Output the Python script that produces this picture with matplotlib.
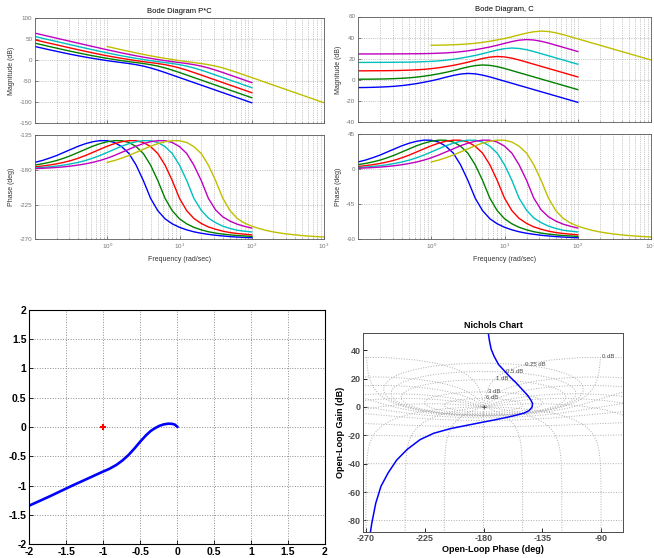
import numpy as np
import matplotlib
matplotlib.use("Agg")
import matplotlib.pyplot as plt
from matplotlib.ticker import LogLocator, NullFormatter

plt.rcParams['font.family'] = ['Liberation Sans', 'DejaVu Sans']
plt.rcParams['mathtext.default'] = 'regular'
plt.rcParams['axes.unicode_minus'] = False

# ---------------- data ----------------
# frequencies (rad/sec) of the blue..magenta controllers, yellow one decade higher
w = [0.1, 0.126, 0.158, 0.2, 0.251, 0.316, 0.398, 0.501, 0.631, 0.794,
     1.0, 1.26, 1.58, 2.0, 2.51, 3.16, 3.98, 5.01, 6.31, 7.94,
     10.0, 12.6, 15.8, 20.0, 25.1, 31.6, 39.8, 50.1, 63.1, 79.4, 100.0]
w_yel = [1.0, 1.26, 1.58, 2.0, 2.51, 3.16, 3.98, 5.01, 6.31, 7.94,
         10.0, 12.6, 15.8, 20.0, 25.1, 31.6, 39.8, 50.1, 63.1, 79.4,
         100.0, 126.0, 158.0, 200.0, 251.0, 316.0, 398.0, 501.0, 631.0, 794.0, 1000.0]

# plant P = 1/s^2 : gain on both grids, constant phase
plant_mag = [40, 36, 32, 28, 24, 20, 16, 12, 8, 4, 0, -4, -8, -12, -16, -20,
             -24, -28, -32, -36, -40, -44, -48, -52, -56, -60, -64, -68, -72, -76, -80]
plant_mag_yel = [0, -4, -8, -12, -16, -20, -24, -28, -32, -36, -40, -44, -48, -52, -56,
                 -60, -64, -68, -72, -76, -80, -84, -88, -92, -96, -100, -104, -108,
                 -112, -116, -120]
plant_phase = -180

# controller C, magnitude (dB)
c_mag_blue = [-7.2, -7.1, -6.95, -6.7, -6.4, -5.95, -5.3, -4.45, -3.4, -2.15, -0.8, 0.8,
              2.6, 4.3, 5.6, 6.2, 5.8, 4.6, 2.9, 0.9, -1.1, -3.1, -5.1, -7.1, -9.1,
              -11.1, -13.1, -15.1, -17.1, -19.1, -21.1]
c_mag_green = [0.7, 0.75, 0.8, 0.9, 1.05, 1.3, 1.6, 2.05, 2.7, 3.55, 4.6, 5.85, 7.2, 8.8,
               10.6, 12.3, 13.6, 14.2, 13.8, 12.6, 10.9, 8.9, 6.9, 4.9, 2.9, 0.9, -1.1,
               -3.1, -5.1, -7.1, -9.1]
c_mag_red = [8.65, 8.65, 8.7, 8.75, 8.8, 8.9, 9.05, 9.3, 9.6, 10.05, 10.7, 11.55, 12.6,
             13.85, 15.2, 16.8, 18.6, 20.3, 21.6, 22.2, 21.8, 20.6, 18.9, 16.9, 14.9,
             12.9, 10.9, 8.9, 6.9, 4.9, 2.9]
c_mag_cyan = [16.6, 16.6, 16.65, 16.65, 16.7, 16.75, 16.8, 16.9, 17.05, 17.3, 17.6, 18.05,
              18.7, 19.55, 20.6, 21.85, 23.2, 24.8, 26.6, 28.3, 29.6, 30.2, 29.8, 28.6,
              26.9, 24.9, 22.9, 20.9, 18.9, 16.9, 14.9]
c_mag_mag = [24.6, 24.6, 24.6, 24.6, 24.65, 24.65, 24.7, 24.75, 24.8, 24.9, 25.05, 25.3,
             25.6, 26.05, 26.7, 27.55, 28.6, 29.85, 31.2, 32.8, 34.6, 36.3, 37.6, 38.2,
             37.8, 36.6, 34.9, 32.9, 30.9, 28.9, 26.9]
c_mag_yel = [32.8, 32.9, 33.05, 33.3, 33.6, 34.05, 34.7, 35.55, 36.6, 37.85, 39.2, 40.8,
             42.6, 44.3, 45.6, 46.2, 45.8, 44.6, 42.9, 40.9, 38.9, 36.9, 34.9, 32.9,
             30.9, 28.9, 26.9, 24.9, 22.9, 20.9, 18.9]

# controller C, phase (deg)
c_ph_blue = [9.6, 12.0, 15.0, 18.5, 22.5, 26.5, 30.5, 33.8, 36.3, 37.7, 37.6, 35.3, 30.0,
             21.0, 6.0, -14.0, -37.0, -53.0, -63.5, -70.0, -74.5, -77.8, -80.3, -82.2,
             -83.6, -84.8, -85.7, -86.5, -87.1, -87.6, -88.0]
c_ph_green = [6.1, 7.7, 9.6, 12.0, 15.0, 18.5, 22.5, 26.5, 30.5, 33.8, 36.3, 37.7, 37.6,
              35.3, 30.0, 21.0, 6.0, -14.0, -37.0, -53.0, -63.5, -70.0, -74.5, -77.8,
              -80.2, -82.0, -83.3, -84.3, -85.1, -85.7, -86.2]
c_ph_red = [3.8, 4.8, 6.1, 7.7, 9.6, 12.0, 15.0, 18.5, 22.5, 26.5, 30.5, 33.8, 36.3, 37.7,
            37.6, 35.3, 30.0, 21.0, 6.0, -14.0, -37.0, -53.0, -63.0, -69.5, -74.0, -77.0,
            -79.5, -81.3, -82.5, -83.4, -84.2]
c_ph_cyan = [2.4, 3.0, 3.8, 4.8, 6.1, 7.7, 9.6, 12.0, 15.0, 18.5, 22.5, 26.5, 30.5, 33.8,
             36.3, 37.7, 37.6, 35.3, 30.0, 21.0, 6.0, -14.0, -37.0, -52.5, -62.5, -68.5,
             -73.0, -76.0, -78.3, -79.5, -80.5]
c_ph_mag = [1.5, 1.9, 2.4, 3.0, 3.8, 4.8, 6.1, 7.7, 9.6, 12.0, 15.0, 18.5, 22.5, 26.5,
            30.5, 33.8, 36.3, 37.7, 37.6, 35.3, 30.0, 21.0, 6.0, -14.0, -37.0, -52.0,
            -61.0, -66.5, -70.5, -73.2, -75.5]
c_ph_yel = [9.6, 12.0, 15.0, 18.5, 22.5, 26.5, 30.5, 33.8, 36.3, 37.7, 37.6, 35.3, 30.0,
            21.0, 6.0, -14.0, -37.0, -53.0, -63.0, -69.0, -73.0, -76.0, -78.5, -80.5,
            -82.0, -83.3, -84.3, -85.2, -85.9, -86.5, -87.0]

# Nyquist of the loop (real, imag)
nyq_re = [0.005, -0.03, -0.07, -0.12, -0.18, -0.24, -0.30, -0.36, -0.42, -0.50, -0.58,
          -0.66, -0.74, -0.82, -0.92, -1.02, -1.15, -1.28, -1.42, -1.57, -1.72, -1.86,
          -2.0, -2.1]
nyq_im = [0.0, 0.04, 0.054, 0.057, 0.045, 0.02, -0.02, -0.07, -0.14, -0.25, -0.37,
          -0.48, -0.57, -0.645, -0.715, -0.77, -0.845, -0.92, -1.0, -1.09, -1.18, -1.26,
          -1.34, -1.39]

# Nichols of the loop (phase deg, gain dB)
nic_ph = [-176.3, -175.5, -174.2, -172.0, -168.5, -164.0, -159.5, -155.0, -150.5, -146.5,
          -143.8, -142.5, -142.8, -145.0, -149.0, -155.0, -163.0, -172.0, -181.0, -192.0,
          -205.0, -218.0, -228.5, -238.5, -246.5, -253.0, -258.5, -262.5, -265.5, -266.5]
nic_gain = [52.0, 47.0, 41.0, 36.0, 30.0, 25.5, 21.0, 17.0, 12.5, 8.5, 5.0, 2.5, 0.0, -2.5,
            -4.3, -5.8, -7.5, -9.2, -10.8, -12.8, -15.2, -18.5, -23.0, -30.0, -37.5, -46.5,
            -56.0, -68.0, -82.0, -88.0]

# nichols grid levels
ngrid_mag_db = [6, 3, 1, 0.5, 0.25, 0, -1, -3, -6, -12, -20, -40, -60, -80, -100]
ngrid_phase = [1, 5, 10, 20, 30, 50, 90, 120, 150, 180]

colors = [(0, 0, 1), (0, 0.5, 0), (1, 0, 0), (0, 0.75, 0.75), (0.75, 0, 0.75), (0.75, 0.75, 0)]
c_mags = [c_mag_blue, c_mag_green, c_mag_red, c_mag_cyan, c_mag_mag, c_mag_yel]
c_phs = [c_ph_blue, c_ph_green, c_ph_red, c_ph_cyan, c_ph_mag, c_ph_yel]
freqs = [w, w, w, w, w, w_yel]
plants = [plant_mag] * 5 + [plant_mag_yel]

fig = plt.figure(figsize=(6.54, 5.58), dpi=100)
W, H = 654.0, 558.0


def rect(x0, y0, x1, y1):
    return [x0 / W, 1 - y1 / H, (x1 - x0) / W, (y1 - y0) / H]


def bode_ax(r, ylim, yticks, xlabels):
    ax = fig.add_axes(r)
    ax.set_xscale('log')
    ax.set_xlim(0.1, 1000)
    ax.set_ylim(*ylim)
    ax.set_yticks(yticks)
    ax.set_xticks([1, 10, 100, 1000])
    ax.xaxis.set_minor_locator(LogLocator(base=10, subs=np.arange(2, 10)))
    ax.xaxis.set_minor_formatter(NullFormatter())
    if xlabels:
        ax.set_xticklabels(['$10^{0}$', '$10^{1}$', '$10^{2}$', '$10^{3}$'])
    else:
        ax.set_xticklabels([])
    ax.tick_params(which='both', direction='in', labelsize=4.5, labelcolor='0.45',
                   color='0.3', length=2, width=0.5, pad=2)
    ax.tick_params(which='minor', length=1)
    ax.grid(True, which='both', axis='x', ls=':', color='0.6', lw=0.5)
    ax.grid(True, which='major', axis='y', ls=':', color='0.6', lw=0.5)
    for s in ax.spines.values():
        s.set_color('0.35')
        s.set_linewidth(0.6)
    return ax


# ---- Bode P*C ----
ax1 = bode_ax(rect(35, 18.3, 324, 123.3), (-150, 100), [-150, -100, -50, 0, 50, 100], False)
ax2 = bode_ax(rect(35, 135, 324, 239.3), (-270, -135), [-270, -225, -180, -135], True)
# ---- Bode C ----
ax3 = bode_ax(rect(358, 16.5, 651, 122.3), (-40, 60), [-40, -20, 0, 20, 40, 60], False)
ax4 = bode_ax(rect(358, 134.5, 651, 239.3), (-90, 45), [-90, -45, 0, 45], True)

for f, cm, cp, pm, col in zip(freqs, c_mags, c_phs, plants, colors):
    cm = np.array(cm)
    cp = np.array(cp)
    ax1.plot(f, cm + np.array(pm), color=col, lw=1.0)
    ax2.plot(f, cp + plant_phase, color=col, lw=1.0)
    ax3.plot(f, cm, color=col, lw=1.0)
    ax4.plot(f, cp, color=col, lw=1.0)

ax1.set_title('Bode Diagram P*C', fontsize=5.5, pad=4)
ax3.set_title('Bode Diagram, C', fontsize=5.5, pad=4)
for a in (ax1, ax3):
    a.set_ylabel('Magnitude (dB)', fontsize=5, color='0.2', labelpad=3)
for a in (ax2, ax4):
    a.set_ylabel('Phase (deg)', fontsize=5, color='0.2', labelpad=3)
    a.set_xlabel('Frequency (rad/sec)', fontsize=5, color='0.2', labelpad=3)

# ---- Nyquist ----
ax5 = fig.add_axes(rect(29.3, 309.7, 325, 544.3))
ax5.plot(nyq_re, nyq_im, color='b', lw=1.9, solid_capstyle='round')
ax5.plot([-1], [0], '+', color='r', ms=4, mew=1.5)
ax5.set_xlim(-2, 2)
ax5.set_ylim(-2, 2)
tk = [-2, -1.5, -1, -0.5, 0, 0.5, 1, 1.5, 2]
tkl = ['-2', '-1.5', '-1', '-0.5', '0', '0.5', '1', '1.5', '2']
ax5.set_xticks(tk)
ax5.set_xticklabels(tkl)
ax5.set_yticks(tk)
ax5.set_yticklabels(tkl)
ax5.tick_params(direction='in', labelsize=7.5, length=3, width=0.6, pad=2)
for lab in ax5.get_xticklabels() + ax5.get_yticklabels():
    lab.set_fontweight('bold')
ax5.grid(True, ls=':', color='0.55', lw=0.7)
for s in ax5.spines.values():
    s.set_linewidth(0.8)

# ---- Nichols ----
ax6 = fig.add_axes(rect(363.3, 333.3, 623.3, 531.7))
xl, yl = (-272, -73), (-88, 52)
gcol = '0.68'
for mdb in ngrid_mag_db:
    m = 10 ** (mdb / 20.0)
    if mdb > 0:
        t = np.radians(np.linspace(-180, 180, 1441))
    else:
        t = np.radians(np.linspace(1, 359, 1433))
    T = m * np.exp(1j * t)
    G = T / (1 - T)
    ax6.plot(np.mod(np.degrees(np.angle(G)), 360) - 360, 20 * np.log10(np.abs(G)),
             ls=':', color=gcol, lw=0.7)
    # label where the closed-loop phase is -1 deg
    T1 = m * np.exp(-1j * np.radians(1))
    G1 = T1 / (1 - T1)
    lx = np.mod(np.degrees(np.angle(G1)), 360) - 360
    ly = 20 * np.log10(np.abs(G1))
    if xl[0] < lx < xl[1] - 12 and yl[0] < ly < yl[1]:
        ax6.text(lx + 1.2, ly + 0.6, '%g dB' % mdb, fontsize=4.3, color='0.3',
                 ha='left', va='center')

r = np.logspace(-6, 6, 3000)
for nd in ngrid_phase:
    sides = (-1,) if nd == 180 else (-1, 1)
    for s in sides:
        T = r * np.exp(1j * np.radians(s * nd))
        G = T / (1 - T)
        ax6.plot(np.mod(np.degrees(np.angle(G)), 360) - 360, 20 * np.log10(np.abs(G)),
                 ls=':', color=gcol, lw=0.7)

ax6.plot([-180], [0], '+', color='0.3', ms=3, mew=0.6)
ax6.plot(nic_ph, nic_gain, color='b', lw=1.1)
ax6.set_xlim(*xl)
ax6.set_ylim(*yl)
ax6.set_xticks([-270, -225, -180, -135, -90])
ax6.set_yticks([-80, -60, -40, -20, 0, 20, 40])
ax6.tick_params(direction='in', labelsize=6.5, labelcolor='0.3', length=3, width=0.6, pad=2)
for lab in ax6.get_xticklabels() + ax6.get_yticklabels():
    lab.set_fontweight('bold')
ax6.set_title('Nichols Chart', fontsize=6.5, fontweight='bold', pad=4)
ax6.set_xlabel('Open-Loop Phase (deg)', fontsize=6.5, fontweight='bold', labelpad=1)
ax6.set_ylabel('Open-Loop Gain (dB)', fontsize=6.5, fontweight='bold', labelpad=2)
for s in ax6.spines.values():
    s.set_color('0.3')
    s.set_linewidth(0.7)

fig.savefig('out.png', dpi=100)
